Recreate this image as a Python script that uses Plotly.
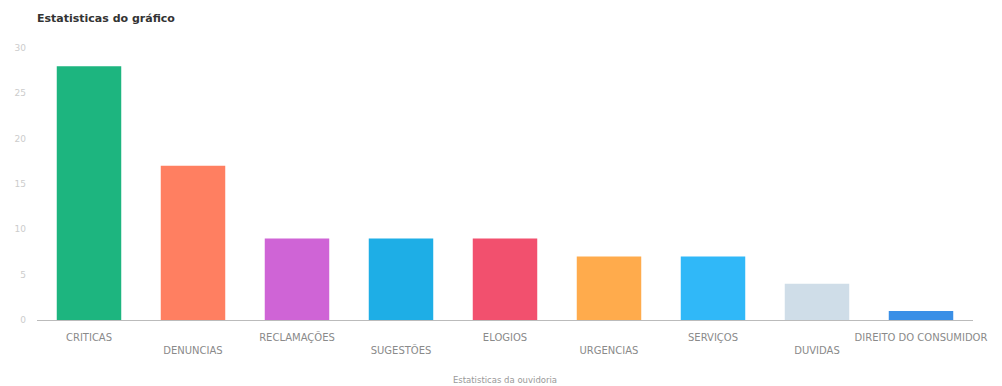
import plotly.graph_objects as go

categories = ["CRITICAS", "DENUNCIAS", "RECLAMAÇÕES", "SUGESTÕES", "ELOGIOS",
              "URGENCIAS", "SERVIÇOS", "DUVIDAS", "DIREITO DO CONSUMIDOR"]
values = [28, 17, 9, 9, 9, 7, 7, 4, 1]
colors = ["#1db57f", "#ff7f61", "#cf64d6", "#1eaee6", "#f2506e",
          "#ffab4c", "#30b8f8", "#cfdde8", "#3a8fe6"]
tick_labels = [c if i % 2 == 0 else "<br>" + c for i, c in enumerate(categories)]
y_ticks = [0, 5, 10, 15, 20, 25, 30]

fig = go.Figure(go.Bar(
    x=categories, y=values, marker=dict(color=colors, line=dict(width=0)),
    hoverinfo="x+y"))

fig.update_layout(
    width=1002, height=386,
    margin=dict(l=37, r=29, t=48, b=66),
    paper_bgcolor="white", plot_bgcolor="white",
    bargap=0.38,
    showlegend=False,
    title=dict(text="<b>Estatisticas do gráfico</b>", x=0, xref="paper", xanchor="left",
               y=1 - 18 / 386, yanchor="middle",
               font=dict(family="DejaVu Sans", size=11, color="#333")),
    font=dict(family="DejaVu Sans", color="#999"),
)
fig.update_xaxes(
    tickmode="array", tickvals=categories, ticktext=tick_labels,
    tickfont=dict(family="DejaVu Sans", size=10, color="#8a8a8a"),
    showline=True, linecolor="#bbb", linewidth=1, showgrid=False,
    ticks="", automargin=False, ticklabelstandoff=8,
    title=dict(text="Estatisticas da ouvidoria",
               font=dict(family="DejaVu Sans", size=8.5, color="#999"), standoff=22),
)
fig.update_yaxes(
    range=[0, 30], tickmode="array", tickvals=y_ticks,
    tickfont=dict(family="DejaVu Sans", size=9, color="#ccc"),
    showgrid=False, zeroline=False, showline=False, ticks="",
    ticklabelstandoff=10, automargin=False,
)

fig.write_html("out.html")
